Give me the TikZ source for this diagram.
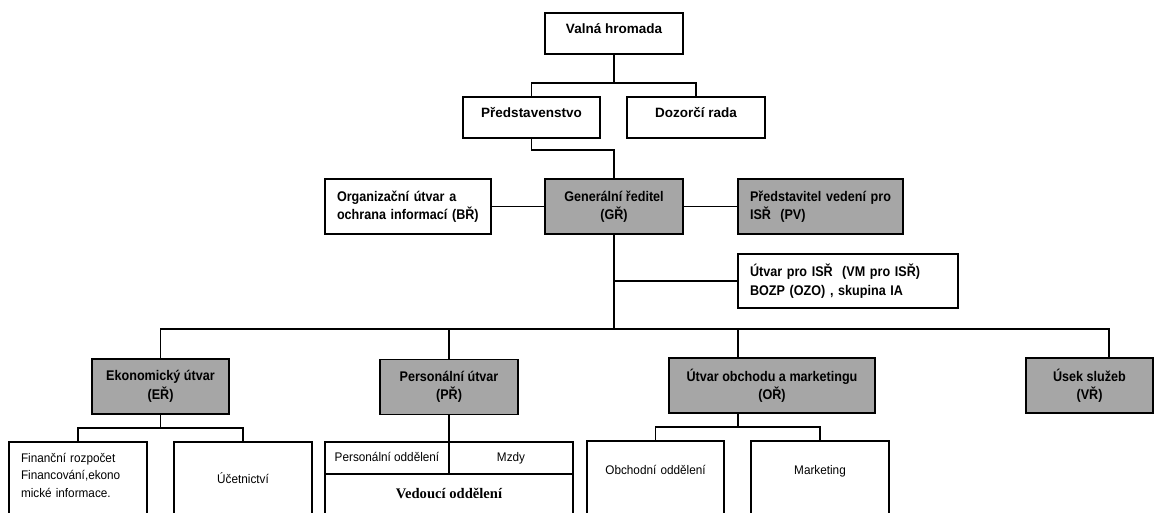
\documentclass[tikz,border=0pt]{standalone}
\usepackage{fontspec}
\setmainfont{Liberation Sans}
\newfontfamily\narrowsans[FakeStretch=0.9]{Liberation Sans}
\newfontfamily\thinsans[FakeStretch=0.94]{Liberation Sans}
\newfontfamily\vedserif{Liberation Serif}
\usepackage{tikz}
\definecolor{unitgray}{HTML}{A6A6A6}

\begin{document}
\begin{tikzpicture}[x=1pt, y=-1pt,
    box/.style={draw, line width=1.3pt, inner sep=0pt, outer sep=0pt, align=center},
    topbox/.style={box, minimum height=41pt, text height=6pt, text depth=6pt,
        font={\fontsize{13.5}{16}\selectfont\bfseries}},
    unit/.style={box, minimum height=55pt,
        font={\narrowsans\fontsize{14}{18.5}\selectfont\bfseries}},
    grayunit/.style={unit, fill=unitgray, line width=1.6pt},
    leftunit/.style={unit, align=left, inner xsep=12pt},
    dept/.style={box, anchor=north, text depth=80pt,
        font={\thinsans\fontsize{12.5}{17.5}\selectfont}},
    cell/.style={box, minimum width=124pt, minimum height=32pt,
        text height=8pt, text depth=2pt,
        font={\thinsans\fontsize{12.5}{17.5}\selectfont}},
    link/.style={line width=1.3pt}]
    \useasboundingbox (0,0) rectangle (1155,512);
    \clip (0,0) rectangle (1155,512);

    % Top level
    \node[topbox, minimum width=138pt] (vh) at (614,33.5) {Valná hromada};
    \node[topbox, minimum width=137pt] (pred) at (531.5,117.5) {Představenstvo};
    \node[topbox, minimum width=138pt] (dozor) at (696,117.5) {Dozorčí rada};

    % Management
    \node[grayunit, minimum width=138pt] (gr) at (614,206.5) {Generální ředitel\\(GŘ)};
    \node[leftunit, text width=142pt] (org) at (408,206.5) {Organizační útvar a\\ochrana informací (BŘ)};
    \node[leftunit, fill=unitgray, line width=1.6pt, text width=141pt] (pv) at (820.5,206.5) {Představitel vedení pro\\ISŘ\ \ (PV)};
    \node[leftunit, minimum height=54pt, text width=196pt] (isr) at (848,281) {Útvar pro ISŘ\ \ (VM pro ISŘ)\\BOZP (OZO) , skupina IA};

    % Units
    \node[grayunit, minimum width=137pt] (er) at (160.5,386.5) {Ekonomický útvar\\(EŘ)};
    \node[grayunit, minimum width=138pt] (pr) at (449,387) {Personální útvar\\(PŘ)};
    \node[grayunit, minimum width=206pt] (obm) at (772,385.5) {Útvar obchodu a marketingu\\(OŘ)};
    \node[grayunit, minimum width=127pt] (vr) at (1089.5,385.5) {Úsek služeb\\(VŘ)};

    % Departments
    \node[dept, text width=114pt, inner xsep=12pt, align=left, text height=20pt] (fin) at (78,442) {Finanční rozpočet\\Financování,ekono\\mické informace.};
    \node[dept, text width=114pt, inner xsep=12pt, text height=41pt] (uct) at (243,442) {Účetnictví};
    \node[cell] (pers) at (387,458) {Personální oddělení};
    \node[cell] (mzdy) at (511,458) {Mzdy};
    \node[dept, minimum width=248pt, text height=24pt,
        font={\vedserif\fontsize{14.6}{17}\selectfont\bfseries}] (ved) at (449,474) {Vedoucí oddělení};
    \node[dept, text width=113pt, inner xsep=12pt, text height=33pt] (obch) at (655.5,441) {Obchodní oddělení};
    \node[dept, text width=114pt, inner xsep=12pt, text height=33pt] (mark) at (820,441) {Marketing};

    % Connectors, top
    \coordinate (topbus) at (614,83);
    \draw[link] (vh.south) -- (topbus);
    \draw[link] (pred.north) |- (topbus) -| (dozor.north);
    \draw[link] (pred.south) -- ++(0,12) -| (gr.north);
    \draw[link] (org.east) -- (gr.west);
    \draw[link] (gr.east) -- (pv.west);

    % Trunk and bus
    \coordinate (bus) at (614,329);
    \coordinate (obmtop) at (738,358);
    \coordinate (vrtop) at (1109,358);
    \draw[link] (gr.south) -- (bus);
    \draw[link] (gr.south |- isr.west) -- (isr.west);
    \draw[link] (er.north) |- (bus) -| (vrtop);
    \draw[link] (pr.north) -- (pr.north |- bus);
    \draw[link] (obmtop) -- (obmtop |- bus);

    % Connectors, departments
    \draw[link] (er.south) -- ++(0,14) coordinate (erlow);
    \draw[link] (fin.north) |- (erlow) -| (uct.north);
    \draw[link] (pr.south) -- (pers.north east);
    \coordinate (obmbot) at (738,413);
    \draw[link] (obmbot) -- ++(0,14) coordinate (obmlow);
    \draw[link] (obch.north) |- (obmlow) -| (mark.north);
\end{tikzpicture}
\end{document}
